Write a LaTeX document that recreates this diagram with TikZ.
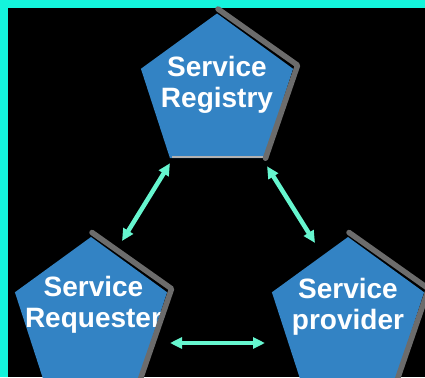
\documentclass[tikz,border=0pt]{standalone}
\usepackage{fontspec}
\setmainfont{Liberation Sans}
\usetikzlibrary{shapes.geometric,arrows.meta}
\definecolor{frame}{RGB}{20,245,220}
\definecolor{penta}{RGB}{51,131,196}
\definecolor{bevelgray}{RGB}{108,108,108}
\definecolor{link}{RGB}{102,246,207}

\begin{document}
\begin{tikzpicture}[x=1pt,y=-1pt]
\useasboundingbox (0,0) rectangle (425,377);
\fill[black] (0,0) rectangle (425,377);
\fill[frame] (0,0) rectangle (425,8.5);
\fill[frame] (0,0) rectangle (7.5,377);
\begin{scope}[every node/.style={regular polygon,regular polygon sides=5,minimum size=160pt,
              inner sep=0pt,outer sep=0pt,fill=penta}]
    \node (R) at (217,93.5) {};
    \node (Q) at (91,317) {};
    \node (P) at (348,317) {};
\end{scope}
\draw[line width=1.5pt,draw=gray!60] ([shift={(2,-1)}]R.corner 3) -- ([shift={(-1,-1)}]R.corner 4);
\begin{scope}[every node/.style={align=center,text=white,inner sep=0pt,
              font=\bfseries\fontsize{28}{31}\selectfont}]
    \node (r) at (217,84.5) {Service\\Registry};
    \node (q) at (93.5,305) {Service\\Requester};
    \node (p) at (348,307) {Service\\provider};
\end{scope}
\begin{scope}[color=bevelgray,line width=5.5pt,line cap=round,line join=round]
    \draw ([shift={(1,-4.5)}]R.corner 1) -- ([shift={(4.5,-3.5)}]R.corner 5) -- ([shift={(1.5,0)}]R.corner 4);
    \draw ([shift={(1,-4.5)}]Q.corner 1) -- ([shift={(4.5,-3.5)}]Q.corner 5) -- ([shift={(1.5,0)}]Q.corner 4);
    \draw ([shift={(1,-4.5)}]P.corner 1) -- ([shift={(4.5,-3.5)}]P.corner 5) -- ([shift={(1.5,0)}]P.corner 4);
\end{scope}
\begin{scope}[>={Triangle[length=12pt,width=11pt]},
              every edge/.style={draw=link,line width=4.5pt}]
    \path [<->] ([shift={(0,5)}]R.corner 3) edge ([shift={(31,4)}]Q.corner 1);
    \path [<->] ([shift={(3,8)}]R.corner 4) edge ([shift={(-33,6)}]P.corner 1);
    \path [<->] ([shift={(79,26)}]Q.center) edge ([shift={(-83,26)}]P.center);
\end{scope}
\end{tikzpicture}
\end{document}
